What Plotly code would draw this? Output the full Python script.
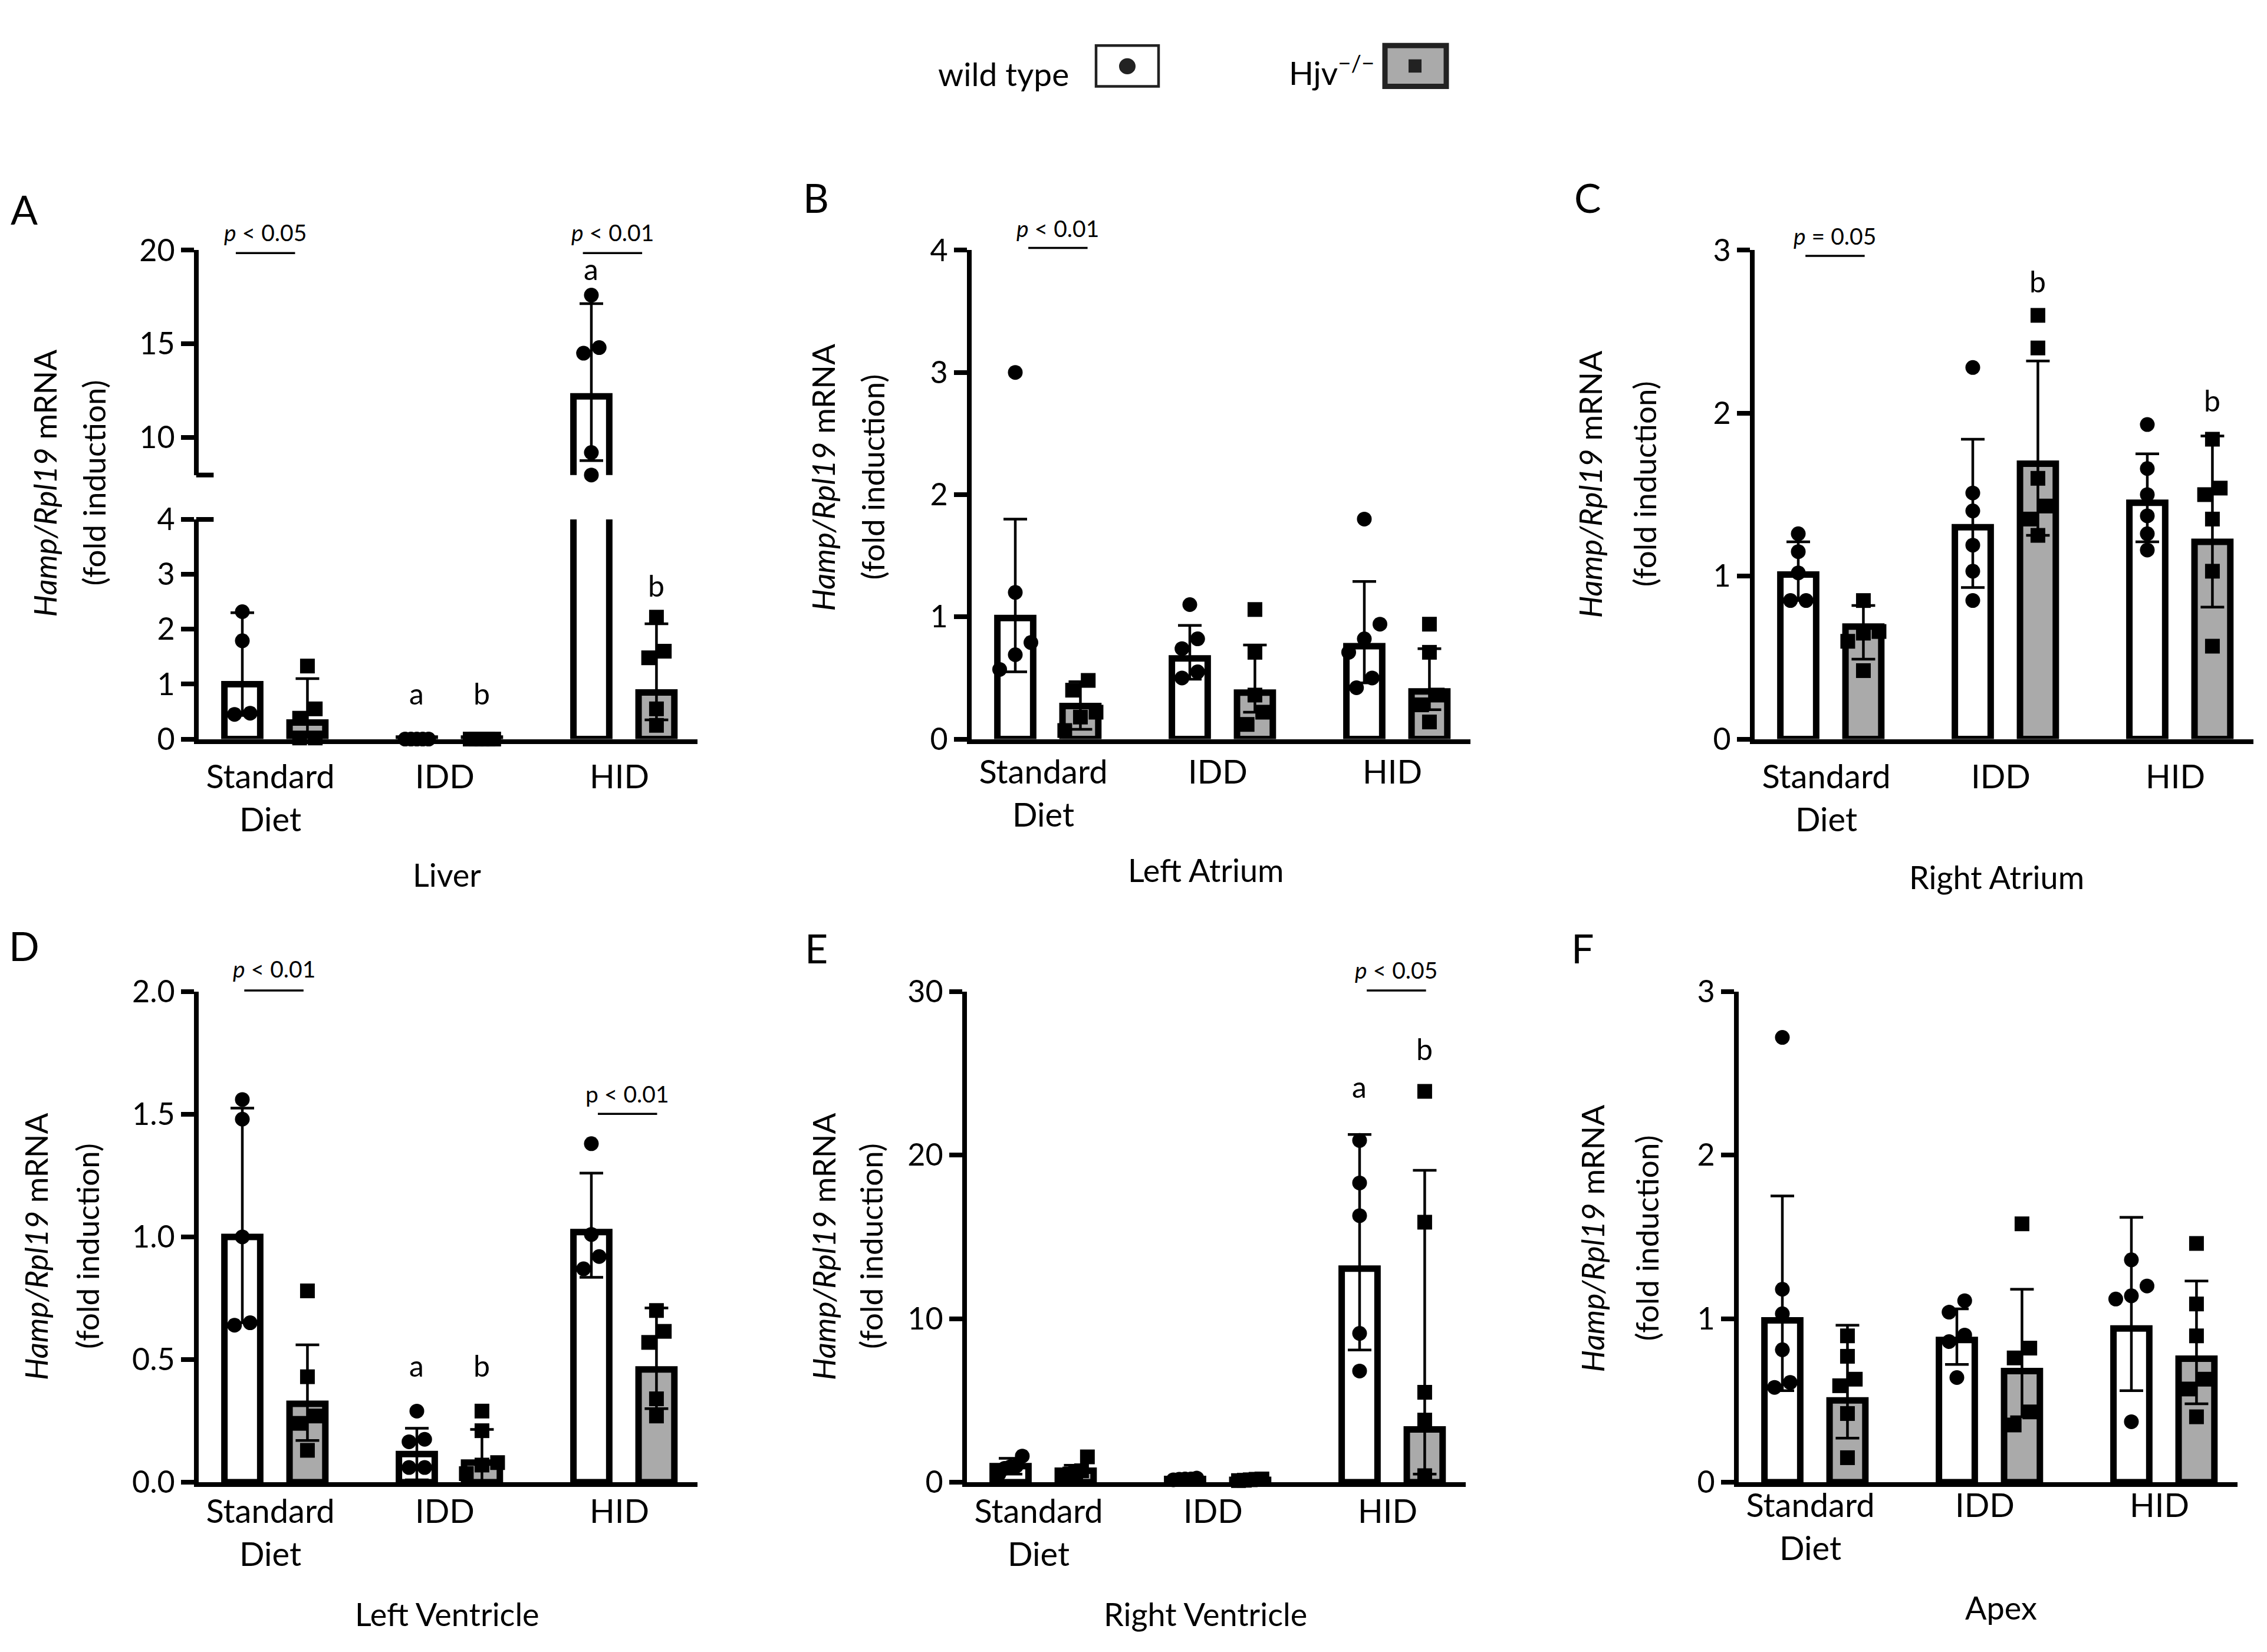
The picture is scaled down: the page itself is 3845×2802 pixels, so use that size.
import plotly.graph_objects as go

# **** Values
diets = ["Standard<br>Diet", "IDD", "HID"]

# A - Liver
liver_wt_mean = [1.0, 0.01, 12.2]
liver_wt_hi = [2.3, 0.01, 17.15]
liver_wt_lo = [0.43, 0.0, 8.77]
liver_wt_pts = [[2.32, 1.79, 0.47, 0.45], [0.0, 0.0, 0.0, 0.0, 0.0], [17.6, 14.8, 14.5, 9.2, 8.0]]
liver_hjv_mean = [0.3, 0.01, 0.85]
liver_hjv_hi = [1.1, 0.01, 2.1]
liver_hjv_lo = [0.05, 0.0, 0.35]
liver_hjv_pts = [[1.33, 0.55, 0.38, 0.02, 0.02], [0.0, 0.0, 0.0, 0.0, 0.0], [2.22, 1.6, 1.48, 0.55, 0.25]]

# B - Left Atrium
la_wt_mean = [0.99, 0.66, 0.76]
la_wt_hi = [1.80, 0.93, 1.29]
la_wt_lo = [0.55, 0.49, 0.46]
la_wt_pts = [[3.0, 1.2, 0.79, 0.69, 0.57], [1.10, 0.82, 0.74, 0.55, 0.50], [1.80, 0.94, 0.82, 0.71, 0.50, 0.42]]
la_hjv_mean = [0.27, 0.38, 0.39]
la_hjv_hi = [0.47, 0.77, 0.74]
la_hjv_lo = [0.08, 0.22, 0.24]
la_hjv_pts = [[0.48, 0.40, 0.22, 0.18, 0.07], [1.06, 0.71, 0.36, 0.22, 0.12], [0.94, 0.71, 0.36, 0.28, 0.14]]

# C - Right Atrium
ra_wt_mean = [1.01, 1.30, 1.45]
ra_wt_hi = [1.21, 1.84, 1.75]
ra_wt_lo = [0.85, 0.93, 1.21]
ra_wt_pts = [[1.26, 1.15, 1.02, 0.85, 0.85], [2.28, 1.51, 1.40, 1.19, 1.03, 0.85], [1.93, 1.66, 1.50, 1.37, 1.26, 1.16]]
ra_hjv_mean = [0.69, 1.69, 1.21]
ra_hjv_hi = [0.82, 2.32, 1.86]
ra_hjv_lo = [0.49, 1.25, 0.81]
ra_hjv_pts = [[0.85, 0.66, 0.65, 0.60, 0.42], [2.60, 2.40, 1.60, 1.43, 1.35, 1.25], [1.84, 1.54, 1.50, 1.35, 1.03, 0.57]]

# D - Left Ventricle
lv_wt_mean = [1.0, 0.115, 1.02]
lv_wt_hi = [1.525, 0.22, 1.26]
lv_wt_lo = [0.65, 0.01, 0.835]
lv_wt_pts = [[1.56, 1.48, 1.0, 0.65, 0.64], [0.29, 0.175, 0.165, 0.06, 0.06], [1.38, 1.01, 0.92, 0.87]]
lv_hjv_mean = [0.32, 0.08, 0.46]
lv_hjv_hi = [0.56, 0.215, 0.71]
lv_hjv_lo = [0.17, 0.0, 0.30]
lv_hjv_pts = [[0.78, 0.43, 0.27, 0.24, 0.13], [0.29, 0.21, 0.08, 0.07, 0.035], [0.70, 0.615, 0.57, 0.34, 0.27]]

# E - Right Ventricle
rv_wt_mean = [0.98, 0.2, 13.06]
rv_wt_hi = [1.46, 0.3, 21.26]
rv_wt_lo = [0.5, 0.1, 8.09]
rv_wt_pts = [[1.6, 1.0, 0.95, 0.85, 0.5], [0.25, 0.2, 0.2, 0.18, 0.15], [20.9, 18.3, 16.3, 9.1, 6.8]]
rv_hjv_mean = [0.7, 0.15, 3.23]
rv_hjv_hi = [1.04, 0.22, 19.07]
rv_hjv_lo = [0.36, 0.08, 0.5]
rv_hjv_pts = [[1.55, 0.7, 0.56, 0.5, 0.4], [0.2, 0.18, 0.15, 0.12, 0.1], [23.9, 15.9, 5.5, 3.8, 0.4]]

# F - Apex
apex_wt_mean = [0.99, 0.87, 0.94]
apex_wt_hi = [1.75, 1.06, 1.62]
apex_wt_lo = [0.56, 0.72, 0.56]
apex_wt_pts = [[2.72, 1.18, 1.03, 0.81, 0.61, 0.58], [1.11, 1.04, 0.90, 0.86, 0.64], [1.36, 1.20, 1.14, 1.12, 0.37]]
apex_hjv_mean = [0.50, 0.68, 0.755]
apex_hjv_hi = [0.96, 1.18, 1.23]
apex_hjv_lo = [0.27, 0.40, 0.48]
apex_hjv_pts = [[0.895, 0.77, 0.63, 0.59, 0.42, 0.15], [1.58, 0.82, 0.76, 0.43, 0.35], [1.46, 1.09, 0.895, 0.63, 0.57, 0.40]]

# **** Style
W, H = 3845, 2802
FONT = "Lato"
GREY = "#aaaaaa"
GROUP_STEP = 2.68
BAR_W = 0.55
LW = 8
X_RANGE = (-0.67, 6.99)
AX_W = 850          # px length of every x axis
TOP_ROW = (1244, 392)
BOT_ROW = (2533, 1678)


def px_x(px):
    return px / W


def px_y(py):
    return 1 - py / H


def swarm(vals, ppu, gap_px=28, step=0.24):
    # spread points that would overlap side by side
    order = sorted(range(len(vals)), key=lambda i: vals[i])
    offs = [0.0] * len(vals)
    groups, cur = [], [order[0]]
    for i in order[1:]:
        if (vals[i] - vals[cur[-1]]) * ppu < gap_px:
            cur.append(i)
        else:
            groups.append(cur)
            cur = [i]
    groups.append(cur)
    for grp in groups:
        n = len(grp)
        if n == 1:
            continue
        s = step if n <= 3 else 0.36 / (n - 1)
        for k, i in enumerate(grp):
            offs[i] = (k - (n - 1) / 2) * s
    return offs


def add_genotype(fig, xa, ya, series, shift, fill, symbol, size, ppu, keep=lambda v: True):
    means, his, los, pts = series
    xs = [GROUP_STEP * g + shift for g in range(len(means))]
    fig.add_trace(go.Bar(
        x=xs, y=means, width=BAR_W, xaxis=xa, yaxis=ya,
        marker=dict(color=fill, line=dict(color="black", width=11)),
        error_y=dict(type="data", symmetric=False,
                     array=[h - m for h, m in zip(his, means)],
                     arrayminus=[m - l for m, l in zip(means, los)],
                     color="black", thickness=4.5, width=20),
        showlegend=False, hoverinfo="skip"))
    px_, py_ = [], []
    for g, vals in enumerate(pts):
        offs = swarm(vals, ppu)
        for v, o in zip(vals, offs):
            if keep(v):
                px_.append(xs[g] + o)
                py_.append(v)
    fig.add_trace(go.Scatter(
        x=px_, y=py_, mode="markers", xaxis=xa, yaxis=ya, cliponaxis=False,
        marker=dict(symbol=symbol, size=size, color="black", line=dict(width=0)),
        showlegend=False, hoverinfo="skip"))


def axis_key(a):
    return ("xaxis" if a[0] == "x" else "yaxis") + a[1:]


panels = [
    dict(letter="A", letter_at=(33, 321), name="Liver", name_at=(750, 1475),
         xa="x", ya="y", ax_left=325, ydom=(TOP_ROW[0], 859), yrange=(0, 4),
         ytickvals=[0, 1, 2, 3, 4], yticktext=None,
         wt=(liver_wt_mean, liver_wt_hi, liver_wt_lo, liver_wt_pts),
         hjv=(liver_hjv_mean, liver_hjv_hi, liver_hjv_lo, liver_hjv_pts),
         ytitle_x=(67, 150), ytitle_y=796, standoff=8,
         letters=[(1, 0, "a", 0.83, "y"), (1, 1, "b", 0.83, "y"), (2, 0, "a", 19.0, "y7"), (2, 1, "b", 2.8, "y")],
         pvals=[(0, -0.10, "<i>p</i> < 0.05", 361, 397), (2, -0.13, "<i>p</i> < 0.01", 361, 397)]),
    dict(letter="B", letter_at=(1376, 300), name="Left Atrium", name_at=(2037, 1467),
         xa="x2", ya="y2", ax_left=1636, ydom=TOP_ROW, yrange=(0, 4),
         ytickvals=[0, 1, 2, 3, 4], yticktext=None,
         wt=(la_wt_mean, la_wt_hi, la_wt_lo, la_wt_pts),
         hjv=(la_hjv_mean, la_hjv_hi, la_hjv_lo, la_hjv_pts),
         ytitle_x=(1388, 1472), ytitle_y=786, standoff=0,
         letters=[], pvals=[(0, 0.2, "<i>p</i> < 0.01", 354, 388)]),
    dict(letter="C", letter_at=(2684, 300), name="Right Atrium", name_at=(3378, 1479),
         xa="x3", ya="y3", ax_left=2964, ydom=TOP_ROW, yrange=(0, 3),
         ytickvals=[0, 1, 2, 3], yticktext=None,
         wt=(ra_wt_mean, ra_wt_hi, ra_wt_lo, ra_wt_pts),
         hjv=(ra_hjv_mean, ra_hjv_hi, ra_hjv_lo, ra_hjv_pts),
         ytitle_x=(2688, 2780), ytitle_y=798, standoff=8,
         letters=[(1, 1, "b", 2.81, "y3"), (2, 1, "b", 2.08, "y3")],
         pvals=[(0, 0.11, "<i>p</i> = 0.05", 367, 402)]),
    dict(letter="D", letter_at=(33, 1598), name="Left Ventricle", name_at=(750, 2758),
         xa="x4", ya="y4", ax_left=325, ydom=BOT_ROW, yrange=(0, 2),
         ytickvals=[0, 0.5, 1.0, 1.5, 2.0], yticktext=["0.0", "0.5", "1.0", "1.5", "2.0"],
         wt=(lv_wt_mean, lv_wt_hi, lv_wt_lo, lv_wt_pts),
         hjv=(lv_hjv_mean, lv_hjv_hi, lv_hjv_lo, lv_hjv_pts),
         ytitle_x=(52, 139), ytitle_y=2120, standoff=-6,
         letters=[(1, 0, "a", 0.475, "y4"), (1, 1, "b", 0.475, "y4")],
         pvals=[(0, 0.03, "<i>p</i> < 0.01", 1638, 1676), (2, 0.1, "p < 0.01", 1855, 1890)]),
    dict(letter="E", letter_at=(1376, 1602), name="Right Ventricle", name_at=(2037, 2758),
         xa="x5", ya="y5", ax_left=1628, ydom=BOT_ROW, yrange=(0, 30),
         ytickvals=[0, 10, 20, 30], yticktext=None,
         wt=(rv_wt_mean, rv_wt_hi, rv_wt_lo, rv_wt_pts),
         hjv=(rv_hjv_mean, rv_hjv_hi, rv_hjv_lo, rv_hjv_pts),
         ytitle_x=(1388, 1468), ytitle_y=2120, standoff=-6,
         letters=[(2, 0, "a", 24.2, "y5"), (2, 1, "b", 26.5, "y5")],
         pvals=[(2, 0.11, "<i>p</i> < 0.05", 1640, 1676)]),
    dict(letter="F", letter_at=(2676, 1602), name="Apex", name_at=(3386, 2746),
         xa="x6", ya="y6", ax_left=2937, ydom=BOT_ROW, yrange=(0, 3),
         ytickvals=[0, 1, 2, 3], yticktext=None,
         wt=(apex_wt_mean, apex_wt_hi, apex_wt_lo, apex_wt_pts),
         hjv=(apex_hjv_mean, apex_hjv_hi, apex_hjv_lo, apex_hjv_pts),
         ytitle_x=(2692, 2784), ytitle_y=2106, standoff=-16,
         letters=[], pvals=[]),
]

fig = go.Figure()
layout = dict(
    width=W, height=H, margin=dict(l=0, r=0, t=0, b=0),
    paper_bgcolor="white", plot_bgcolor="white",
    font=dict(family=FONT, color="black", size=52),
    barmode="overlay", showlegend=False,
)
annotations = []
shapes = []


def y_axis(dom, rng, tickvals, ticktext, anchor):
    # plotly draws the axis line just outside the domain, so pull the domain in by half a line
    return dict(domain=[px_y(dom[0] - LW / 2), px_y(dom[1])], range=list(rng), anchor=anchor,
                showline=True, linewidth=LW, linecolor="black", mirror=False,
                ticks="outside", ticklen=22, tickwidth=LW, tickcolor="black",
                tickvals=tickvals, ticktext=ticktext, tickfont=dict(size=52),
                showgrid=False, zeroline=False, fixedrange=True)


for p in panels:
    xa, ya = p["xa"], p["ya"]
    left = p["ax_left"] + LW / 2
    xdom = [px_x(left), px_x(p["ax_left"] + AX_W)]
    tickvals = [GROUP_STEP * g + 0.43 for g in range(len(diets))]
    layout[axis_key(xa)] = dict(
        domain=xdom, range=list(X_RANGE), anchor=ya,
        showline=True, linewidth=LW, linecolor="black", ticks="",
        tickvals=tickvals, ticktext=diets, tickfont=dict(size=56),
        ticklabelstandoff=p["standoff"],
        showgrid=False, zeroline=False, fixedrange=True)
    layout[axis_key(ya)] = y_axis(p["ydom"], p["yrange"], p["ytickvals"], p["yticktext"], xa)

    ppu = (p["ydom"][0] - p["ydom"][1]) / (p["yrange"][1] - p["yrange"][0])
    if p["letter"] == "A":
        # broken axis: lower part 0-4, upper part 8-20
        add_genotype(fig, xa, ya, p["wt"], 0, "white", "circle", 25, ppu, keep=lambda v: v < 5)
        add_genotype(fig, xa, ya, p["hjv"], 1, GREY, "square", 25, ppu, keep=lambda v: v < 5)
        up_dom = (782, TOP_ROW[1])
        layout["xaxis7"] = dict(domain=xdom, range=list(X_RANGE), anchor="y7", visible=False,
                                fixedrange=True)
        up = y_axis(up_dom, (8, 20), [10, 15, 20], None, "x7")
        up["domain"] = [px_y(up_dom[0]), px_y(up_dom[1])]
        layout["yaxis7"] = up
        ppu_up = (up_dom[0] - up_dom[1]) / 12
        add_genotype(fig, "x7", "y7", p["wt"], 0, "white", "circle", 25, ppu_up, keep=lambda v: v >= 5)
        add_genotype(fig, "x7", "y7", p["hjv"], 1, GREY, "square", 25, ppu_up, keep=lambda v: v >= 5)
        for xr, yr, yv in [("x domain", "y domain", 1), ("x7 domain", "y7 domain", 0)]:
            shapes.append(dict(type="line", xref=xr, yref=yr, x0=-0.005, x1=0.03, y0=yv, y1=yv,
                               line=dict(color="black", width=LW)))
    else:
        add_genotype(fig, xa, ya, p["wt"], 0, "white", "circle", 25, ppu)
        add_genotype(fig, xa, ya, p["hjv"], 1, GREY, "square", 25, ppu)

    # panel letter
    annotations.append(dict(text=p["letter"], x=px_x(p["letter_at"][0]), y=px_y(p["letter_at"][1]),
                            xref="paper", yref="paper", xanchor="center", yanchor="middle",
                            showarrow=False, font=dict(size=68)))
    # x title
    annotations.append(dict(text=p["name"], x=px_x(p["name_at"][0]), y=px_y(p["name_at"][1]),
                            xref="paper", yref="paper", xanchor="center", yanchor="middle",
                            showarrow=False, font=dict(size=54)))
    # y title (two lines)
    for txt, tx in zip(["<i>Hamp/Rpl19</i> mRNA", "(fold induction)"], p["ytitle_x"]):
        annotations.append(dict(text=txt, x=px_x(tx), y=px_y(p["ytitle_y"]), textangle=-90,
                                xref="paper", yref="paper", xanchor="center", yanchor="middle",
                                showarrow=False, font=dict(size=53)))
    # significance letters
    for g, geno, txt, yv, yref in p["letters"]:
        annotations.append(dict(text=txt, x=GROUP_STEP * g + geno, y=yv, xref=xa, yref=yref,
                                xanchor="center", yanchor="middle", showarrow=False,
                                font=dict(size=50)))
    # p-value brackets
    for g, off, txt, ty, ly in p["pvals"]:
        x0 = GROUP_STEP * g + off
        x1 = x0 + 0.91
        shapes.append(dict(type="line", xref=xa, yref="paper", x0=x0, x1=x1,
                           y0=px_y(ly), y1=px_y(ly), line=dict(color="black", width=3.5)))
        annotations.append(dict(text=txt, x=(x0 + x1) / 2, y=px_y(ty), xref=xa, yref="paper",
                                xanchor="center", yanchor="middle", showarrow=False,
                                font=dict(size=39)))

# **** Legend (drawn by hand, as in the figure)
annotations.append(dict(text="wild type", x=px_x(1694), y=px_y(86), xref="paper", yref="paper",
                        xanchor="center", yanchor="middle", showarrow=False, font=dict(size=55)))
annotations.append(dict(text="Hjv<sup>\u2212/\u2212</sup>", x=px_x(2250), y=px_y(80), xref="paper",
                        yref="paper", xanchor="center", yanchor="middle", showarrow=False,
                        font=dict(size=55)))
shapes.append(dict(type="rect", xref="paper", yref="paper", x0=px_x(1851), x1=px_x(1957),
                   y0=px_y(108), y1=px_y(37), fillcolor="white", line=dict(color="#222222", width=4.5)))
shapes.append(dict(type="circle", xref="paper", yref="paper", x0=px_x(1890), x1=px_x(1918),
                   y0=px_y(87), y1=px_y(59), fillcolor="#222222", line=dict(width=0)))
shapes.append(dict(type="rect", xref="paper", yref="paper", x0=px_x(2341), x1=px_x(2445),
                   y0=px_y(108), y1=px_y(37), fillcolor=GREY, line=dict(color="#222222", width=9)))
shapes.append(dict(type="rect", xref="paper", yref="paper", x0=px_x(2381), x1=px_x(2403),
                   y0=px_y(84), y1=px_y(61), fillcolor="#222222", line=dict(width=0)))

layout["annotations"] = annotations
layout["shapes"] = shapes
fig.update_layout(**layout)

fig.write_html("out.html")
